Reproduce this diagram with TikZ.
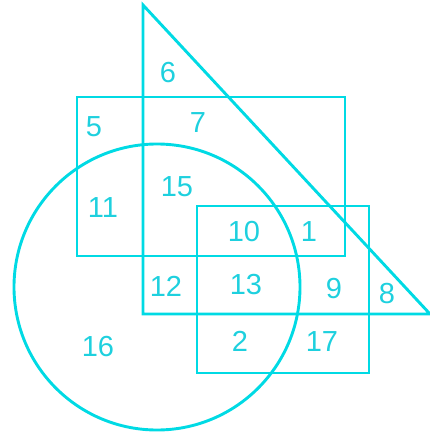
\documentclass[tikz,border=0pt]{standalone}
\usepackage{fontspec}
\setmainfont{Liberation Sans}
\definecolor{venn}{RGB}{0,218,228}
\definecolor{vtext}{RGB}{30,208,222}
\begin{document}
\begin{tikzpicture}[x=1pt,y=-1pt,
  shape line/.style={draw=venn,line width=2.9pt},
  lbl/.style={text=vtext,font=\fontsize{29}{31}\selectfont,inner sep=0pt,anchor=center}]
\useasboundingbox (0,0) rectangle (430,437);
% triangle
\draw[shape line] (143,5) -- (143,314) -- (430,314) -- cycle;
% upper rectangle
\draw[shape line] (77,97) rectangle (345,256);
% lower rectangle
\draw[shape line] (197,206) rectangle (369,373);
% circle
\draw[shape line] (157,287) circle[radius=143];
% labels
\node[lbl] (l6)  at (168,73)  {6};
\node[lbl] (l5)  at (94,127)  {5};
\node[lbl] (l7)  at (198,123) {7};
\node[lbl] (l15) at (177,187) {15};
\node[lbl] (l11) at (103,208) {11};
\node[lbl] (l10) at (244,232) {10};
\node[lbl] (l1)  at (309,232) {1};
\node[lbl] (l12) at (166,286) {12};
\node[lbl] (l13) at (246,285) {13};
\node[lbl] (l9)  at (334,289) {9};
\node[lbl] (l8)  at (387,294) {8};
\node[lbl] (l16) at (98,347)  {16};
\node[lbl] (l2)  at (240,341) {2};
\node[lbl] (l17) at (322,342) {17};
\end{tikzpicture}
\end{document}
